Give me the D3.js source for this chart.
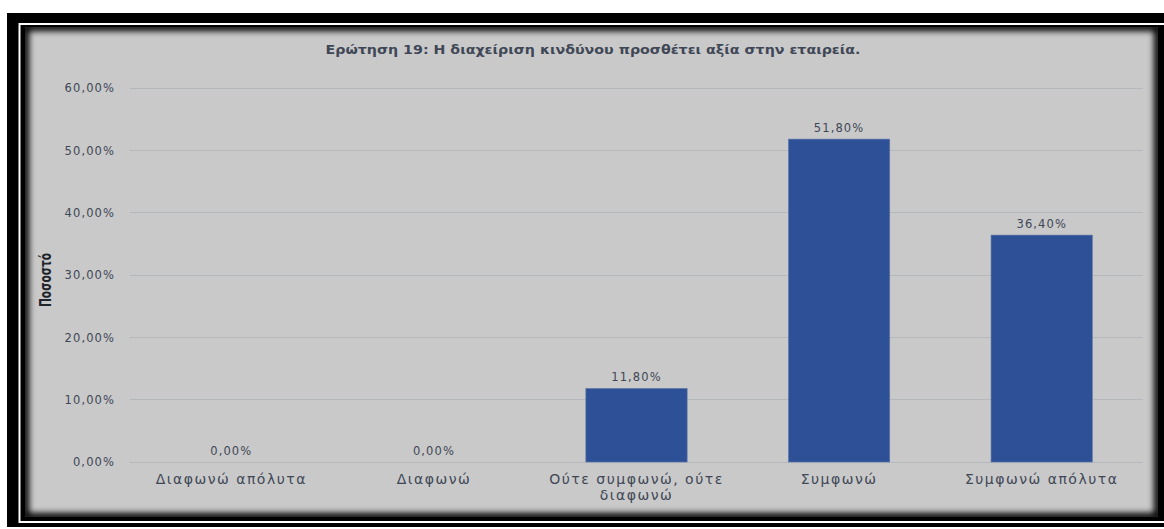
<!DOCTYPE html>
<html>
<head>
<meta charset="utf-8">
<script src="https://cdn.jsdelivr.net/npm/d3@7"></script>
<style>
  html, body { margin: 0; padding: 0; background: #ffffff; }
  svg { display: block; }
</style>
</head>
<body>
<svg id="chart" width="1164" height="529"></svg>
<script>
// Survey answers for question 19
const categories = ["Διαφωνώ απόλυτα", "Διαφωνώ", "Ούτε συμφωνώ, ούτε διαφωνώ", "Συμφωνώ", "Συμφωνώ απόλυτα"];
const categoryLines = [["Διαφωνώ απόλυτα"], ["Διαφωνώ"], ["Ούτε συμφωνώ, ούτε", "διαφωνώ"], ["Συμφωνώ"], ["Συμφωνώ απόλυτα"]];
const percentages = [0.0, 0.0, 11.8, 51.8, 36.4];
const yTicks = [0, 10, 20, 30, 40, 50, 60];
const titleText = "Ερώτηση 19: Η διαχείριση κινδύνου προσθέτει αξία στην εταιρεία.";
const yAxisTitle = "Ποσοστό";

const svg = d3.select("#chart");
const fmt = v => v.toFixed(2).replace(".", ",") + "%";
const textColor = "#3f4756";

// Frame: black outer border, thin white rule, inner black border
svg.append("rect").attr("x", 7).attr("y", 13).attr("width", 1170).attr("height", 514).attr("fill", "#000");
svg.append("rect").attr("x", 19.5).attr("y", 24).attr("width", 1160).attr("height", 498)
  .attr("fill", "none").attr("stroke", "#fff").attr("stroke-width", 2);

// Gray panel with a soft inner shadow
const defs = svg.append("defs");
defs.append("clipPath").attr("id", "panelClip")
  .append("rect").attr("x", 25).attr("y", 27).attr("width", 1133).attr("height", 490);
defs.append("filter").attr("id", "soft").attr("x", "-5%").attr("y", "-5%").attr("width", "110%").attr("height", "110%")
  .append("feGaussianBlur").attr("stdDeviation", 3);

const panel = svg.append("g").attr("clip-path", "url(#panelClip)");
panel.append("rect").attr("x", 25).attr("y", 27).attr("width", 1133).attr("height", 490).attr("fill", "#c9c9c9");
panel.append("rect").attr("x", 25).attr("y", 27).attr("width", 1133).attr("height", 490)
  .attr("fill", "none").attr("stroke", "#000").attr("stroke-width", 8).attr("filter", "url(#soft)");

// Plot area
const plot = { left: 130, right: 1143, top: 88, bottom: 462 };

const x = d3.scaleBand().domain(categories).range([plot.left, plot.right]).paddingInner(0.5).paddingOuter(0.25);
const y = d3.scaleLinear().domain([0, 60]).range([plot.bottom, plot.top]);

// Gridlines
svg.append("g").selectAll("line").data(yTicks).join("line")
  .attr("x1", plot.left).attr("x2", plot.right)
  .attr("y1", d => y(d)).attr("y2", d => y(d))
  .attr("stroke", "#b4b7bc").attr("stroke-width", 1)
  .attr("shape-rendering", "crispEdges");

// Y axis labels
const yAxis = d3.axisLeft(y).tickValues(yTicks).tickFormat(fmt).tickSize(0).tickPadding(15);
const yg = svg.append("g").attr("transform", `translate(${plot.left},0)`).call(yAxis);
yg.select(".domain").remove();
yg.selectAll("text")
  .attr("fill", textColor).attr("font-family", "DejaVu Sans, sans-serif")
  .attr("font-size", 11.5).attr("letter-spacing", 1.1);

// Bars
svg.append("g").selectAll("rect").data(percentages).join("rect")
  .attr("x", (d, i) => x(categories[i]))
  .attr("width", x.bandwidth())
  .attr("y", d => y(d))
  .attr("height", d => y(0) - y(d))
  .attr("fill", "#2e5096")
  .attr("stroke", "#5d77aa").attr("stroke-width", 0.6);

// Value labels
svg.append("g").selectAll("text").data(percentages).join("text")
  .attr("x", (d, i) => x(categories[i]) + x.bandwidth() / 2)
  .attr("y", d => y(d) - 7)
  .attr("text-anchor", "middle")
  .attr("fill", textColor).attr("font-family", "DejaVu Sans, sans-serif")
  .attr("font-size", 11.5).attr("letter-spacing", 1.1)
  .text(d => fmt(d));

// Category labels
const xg = svg.append("g");
categories.forEach((c, i) => {
  const t = xg.append("text")
    .attr("x", x(c) + x.bandwidth() / 2)
    .attr("y", plot.bottom + 22)
    .attr("text-anchor", "middle")
    .attr("fill", textColor).attr("font-family", "DejaVu Sans, sans-serif")
    .attr("font-size", 14).attr("letter-spacing", 1.5);
  categoryLines[i].forEach((line, j) => {
    t.append("tspan").attr("x", x(c) + x.bandwidth() / 2).attr("dy", j === 0 ? 0 : 16).text(line);
  });
});

// Title
svg.append("text")
  .attr("x", 593).attr("y", 54)
  .attr("text-anchor", "middle")
  .attr("fill", textColor).attr("font-family", "DejaVu Sans, sans-serif")
  .attr("font-weight", "bold").attr("font-size", 13)
  .attr("textLength", 535).attr("lengthAdjust", "spacingAndGlyphs")
  .text(titleText);

// Y axis title
svg.append("text")
  .attr("transform", "translate(51,280) rotate(-90)")
  .attr("text-anchor", "middle")
  .attr("fill", "#1f242c").attr("font-family", "DejaVu Sans Condensed, DejaVu Sans, sans-serif")
  .attr("font-weight", "bold").attr("font-size", 16)
  .attr("textLength", 54).attr("lengthAdjust", "spacingAndGlyphs")
  .text(yAxisTitle);
</script>
</body>
</html>
